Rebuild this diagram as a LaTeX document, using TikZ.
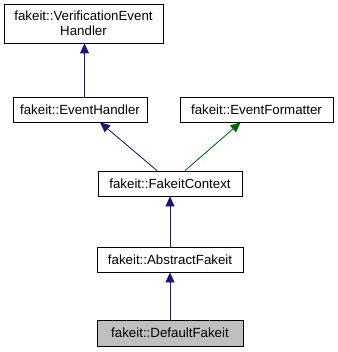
\documentclass[tikz,border=0pt]{standalone}
\usepackage{fontspec}
\setmainfont{Liberation Sans}
\usepackage{tikz}
\usetikzlibrary{arrows.meta, positioning}

\definecolor{navy}{HTML}{191970}
\definecolor{dgreen}{HTML}{006400}
\definecolor{hlgray}{HTML}{BFBFBF}

\begin{document}
\begin{tikzpicture}[
        x=1pt, y=-1pt,
        cls/.style={rectangle, draw=black, fill=white, line width=0.8pt, inner sep=0pt, align=center, font=\fontsize{13.3}{14.5}\selectfont},
        current/.style={cls, fill=hlgray},
        inherit/.style={-{Triangle[length=10pt, width=9pt]}, line width=0.8pt, draw=navy, fill=navy},
        extinherit/.style={inherit, draw=dgreen, fill=dgreen}
    ]
        \useasboundingbox (0,0) rectangle (337,352);

        \node[cls, minimum width=159pt, minimum height=39pt] (veh) at (83.5, 23.5) {fakeit::VerificationEvent\\Handler};
        \node[cls, minimum width=134pt, minimum height=25pt] (eh) at (80, 109.5) {fakeit::EventHandler};
        \node[cls, minimum width=153pt, minimum height=25pt] (ef) at (256.5, 109.5) {fakeit::EventFormatter};
        \node[cls, minimum width=144pt, minimum height=25pt] (fc) at (170, 183.5) {fakeit::FakeitContext};
        \node[cls, minimum width=146pt, minimum height=25pt] (af) at (170, 259.5) {fakeit::AbstractFakeit};
        \node[current, minimum width=146pt, minimum height=26pt] (df) at (170, 333) {fakeit::DefaultFakeit};

        % derived class -> base class
        \draw[inherit] (df.north) -- (af.south);
        \draw[inherit] (af.north) -- (fc.south);
        \draw[inherit] ([xshift=-13pt]fc.north) -- ([xshift=20pt]eh.south);
        \draw[extinherit] ([xshift=15pt]fc.north) -- ([xshift=-16pt]ef.south);
        \draw[inherit] (eh.north -| 84.5,0) -- (veh.south -| 84.5,0);
    \end{tikzpicture}
\end{document}
